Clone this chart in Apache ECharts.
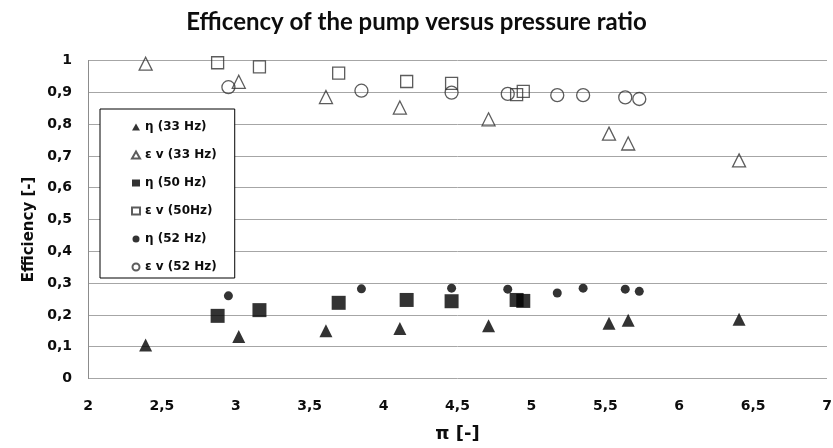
<!DOCTYPE html>
<html><head><meta charset="utf-8">
<script src="https://cdn.jsdelivr.net/npm/echarts@6/dist/echarts.min.js"></script>
<style>html,body{margin:0;padding:0;background:#fff}#c{width:833px;height:448px}</style>
</head><body><div id="c"></div>
<script>
const titleText = 'Efficency of the pump versus pressure ratio';
const xName = 'π [-]';
const yName = 'Efficiency [-]';
const seriesNames = ['η (33 Hz)', 'ε v (33 Hz)', 'η (50 Hz)', 'ε v (50Hz)', 'η (52 Hz)', 'ε v (52 Hz)'];

const pi33 = [2.39, 3.02, 3.61, 4.11, 4.71, 5.525, 5.655, 6.405];
const eta33 = [0.105, 0.132, 0.150, 0.157, 0.166, 0.174, 0.183, 0.186];
const ev33 = [0.990, 0.933, 0.885, 0.852, 0.815, 0.770, 0.739, 0.686];

const pi50 = [2.877, 3.16, 3.696, 4.156, 4.46, 4.90, 4.945];
const eta50 = [0.197, 0.215, 0.238, 0.247, 0.243, 0.247, 0.244];
const ev50 = [0.993, 0.980, 0.960, 0.934, 0.928, 0.893, 0.903];

const pi52 = [2.95, 3.85, 4.46, 4.84, 5.175, 5.35, 5.635, 5.73];
const eta52 = [0.260, 0.282, 0.284, 0.281, 0.269, 0.284, 0.281, 0.274];
const ev52 = [0.916, 0.905, 0.899, 0.895, 0.891, 0.891, 0.884, 0.879];

const xTicks = {min: 2, max: 7, interval: 0.5};
const yTicks = {min: 0, max: 1, interval: 0.1};

function pairs(xs, ys) { return xs.map((x, i) => [x, ys[i]]); }
const comma = v => String(Math.round(v * 10) / 10).replace('.', ',');

const txt = '#0d0d0d';
const dv = 'DejaVu Sans';
const filled = {color: '#000', borderWidth: 0};
const open = {color: 'rgba(255,255,255,0)', borderColor: '#333', borderWidth: 1.3};

const specs = [
  {d: pairs(pi33, eta33), sym: 'triangle', size: 13, st: filled},
  {d: pairs(pi33, ev33), sym: 'triangle', size: 13, st: open},
  {d: pairs(pi50, eta50), sym: 'rect', size: 14, st: filled},
  {d: pairs(pi50, ev50), sym: 'rect', size: 12, st: open},
  {d: pairs(pi52, eta52), sym: 'circle', size: 9, st: filled},
  {d: pairs(pi52, ev52), sym: 'circle', size: 13, st: open}
];

const chart = echarts.init(document.getElementById('c'), null, {renderer: 'canvas'});
chart.setOption({
  animation: false,
  backgroundColor: '#fff',
  textStyle: {fontFamily: dv},
  title: {
    text: titleText, left: 'center', top: 5,
    textStyle: {fontFamily: 'Lato', fontWeight: 'bold', fontSize: 24, color: txt}
  },
  grid: {left: 88, right: 6, top: 60.5, bottom: 69.5, containLabel: false, outerBoundsMode: 'none'},
  legend: {
    orient: 'vertical', left: 100, top: 109,
    padding: [11, 18, 4, 31],
    borderColor: '#000', borderWidth: 1,
    backgroundColor: '#fff',
    itemWidth: 8, itemHeight: 7, itemGap: 14,
    textStyle: {fontFamily: dv, fontWeight: 'bold', fontSize: 12, color: txt, lineHeight: 14},
    data: seriesNames
  },
  xAxis: {
    type: 'value', min: xTicks.min, max: xTicks.max, interval: xTicks.interval,
    name: xName, nameLocation: 'middle', nameGap: 47,
    nameTextStyle: {fontFamily: dv, fontWeight: 'bold', fontSize: 18, color: txt},
    axisLine: {show: false}, axisTick: {show: false}, splitLine: {show: false},
    axisLabel: {formatter: comma, fontFamily: dv, fontWeight: 'bold', fontSize: 14, color: txt, margin: 21}
  },
  yAxis: {
    type: 'value', min: yTicks.min, max: yTicks.max, interval: yTicks.interval,
    name: yName, nameLocation: 'middle', nameGap: 46, nameRotate: 90,
    nameTextStyle: {fontFamily: dv, fontWeight: 'bold', fontSize: 15, color: txt, padding: [0, 20, 0, 0]},
    axisLine: {show: true, lineStyle: {color: '#8c8c8c', width: 1}},
    axisTick: {show: false},
    splitLine: {show: true, lineStyle: {color: '#a6a6a6', width: 1}},
    axisLabel: {formatter: comma, fontFamily: dv, fontWeight: 'bold', fontSize: 14, color: txt, margin: 16}
  },
  series: specs.map((s, i) => ({
    name: seriesNames[i], type: 'scatter', data: s.d,
    symbol: s.sym, symbolSize: s.size, itemStyle: s.st, z: 2 + i
  }))
});
</script></body></html>
